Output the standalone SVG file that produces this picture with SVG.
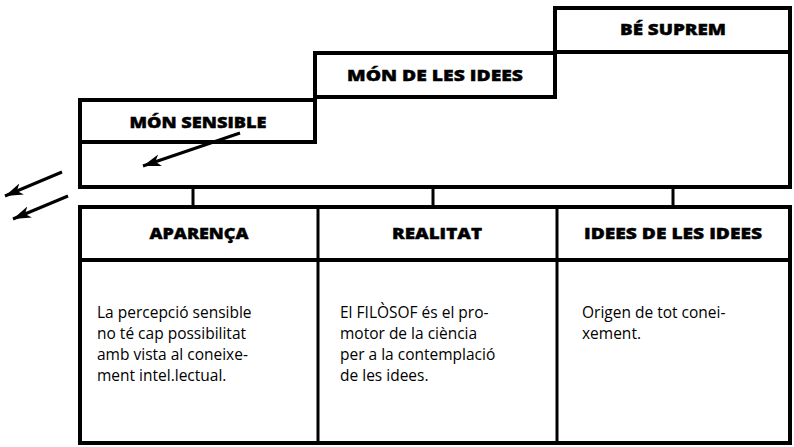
<svg xmlns="http://www.w3.org/2000/svg" width="794" height="447" viewBox="0 0 794 447">
<style>
.ln{fill:none;stroke:#000;stroke-linejoin:miter;stroke-linecap:square}
.hd{font-family:"Open Sans","Liberation Sans",sans-serif;font-weight:800;font-size:16px;fill:#000;stroke:#000;stroke-width:0.4;text-anchor:middle}
.bd{font-family:"Open Sans","Liberation Sans",sans-serif;font-size:15.5px;fill:#000}
.ar{stroke:#000;stroke-width:3;fill:none;marker-end:url(#ah)}
</style>
<defs>
<marker id="ah" markerUnits="userSpaceOnUse" markerWidth="20" markerHeight="14" refX="18" refY="7" orient="auto">
<path d="M0,1 L18,7 L0,13 L5,7 Z" fill="#000"/>
</marker>
</defs>
<rect width="794" height="447" fill="#fff"/>
<g id="stairs">
<path class="ln" stroke-width="4" d="M80,100 H315 V53 H555 V8 H790 V187 H80 Z"/>
<path class="ln" stroke-width="4" d="M315,53 V142 H80"/>
<path class="ln" stroke-width="4" d="M555,8 V97 H315"/>
<path class="ln" stroke-width="4" d="M555,52 H790"/>
</g>
<g id="mon-sensible"><text class="hd" x="198" y="128" textLength="137" lengthAdjust="spacingAndGlyphs">MÓN SENSIBLE</text></g>
<g id="mon-idees"><text class="hd" x="435" y="81" textLength="176" lengthAdjust="spacingAndGlyphs">MÓN DE LES IDEES</text></g>
<g id="be-suprem"><text class="hd" x="673" y="35" textLength="106" lengthAdjust="spacingAndGlyphs">BÉ SUPREM</text></g>
<g id="connectors">
<path class="ln" stroke-width="3" stroke-linecap="butt" d="M193,187 V207 M433,187 V207 M673,187 V207"/>
<line class="ar" x1="240" y1="133" x2="143" y2="166"/>
<line class="ar" x1="62" y1="172" x2="5" y2="196"/>
<line class="ar" x1="68" y1="196" x2="13" y2="219"/>
</g>
<g id="table">
<rect class="ln" stroke-width="4" x="80" y="207" width="710" height="236"/>
<path class="ln" stroke-width="4" d="M80,260 H790"/>
<path class="ln" stroke-width="3" stroke-linecap="butt" d="M318,207 V443 M557,207 V443"/>
</g>
<g id="aparenca">
<text class="hd" x="199" y="239" textLength="99" lengthAdjust="spacingAndGlyphs">APARENÇA</text>
<text class="bd" x="97"><tspan x="97" y="318">La percepció sensible</tspan><tspan x="97" y="339">no té cap possibilitat</tspan><tspan x="97" y="360">amb vista al coneixe-</tspan><tspan x="97" y="381">ment intel.lectual.</tspan></text>
</g>
<g id="realitat">
<text class="hd" x="437" y="239" textLength="90" lengthAdjust="spacingAndGlyphs">REALITAT</text>
<text class="bd" x="340"><tspan x="340" y="318">El FILÒSOF és el pro-</tspan><tspan x="340" y="339">motor de la ciència</tspan><tspan x="340" y="360">per a la contemplació</tspan><tspan x="340" y="381">de les idees.</tspan></text>
</g>
<g id="idees">
<text class="hd" x="673" y="239" textLength="178" lengthAdjust="spacingAndGlyphs">IDEES DE LES IDEES</text>
<text class="bd" x="582"><tspan x="582" y="318">Origen de tot conei-</tspan><tspan x="582" y="339">xement.</tspan></text>
</g>
</svg>
